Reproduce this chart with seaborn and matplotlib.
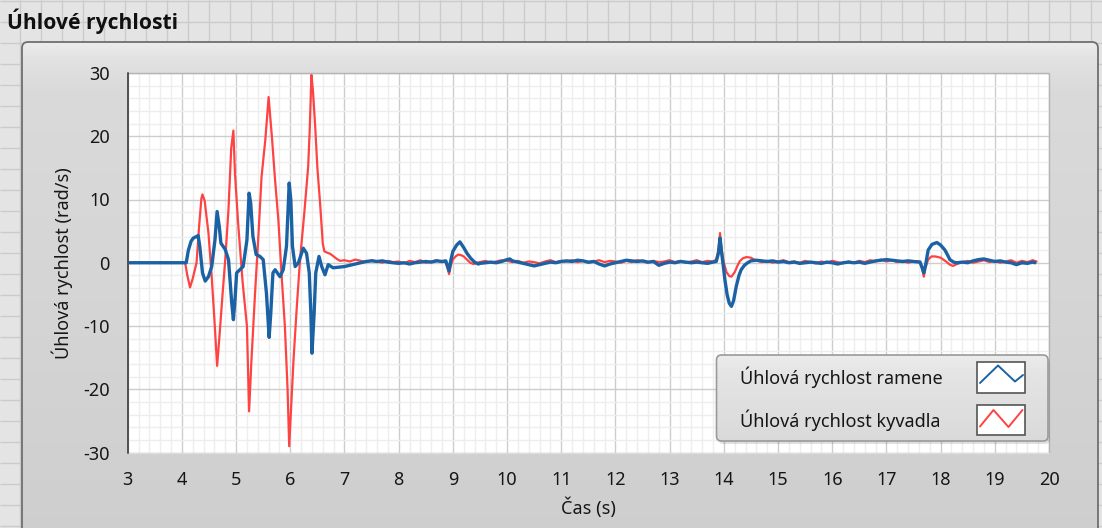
import numpy as np
import matplotlib
matplotlib.use("Agg")
import matplotlib.pyplot as plt
import seaborn as sns
from matplotlib import font_manager
from matplotlib.patches import FancyBboxPatch, Rectangle
from matplotlib.ticker import MultipleLocator

# ---------------------------------------------------------------- data
title = "Úhlové rychlosti"
x_label = "Čas (s)"
y_label = "Úhlová rychlost (rad/s)"
arm_label = "Úhlová rychlost ramene"
pend_label = "Úhlová rychlost kyvadla"

x_ticks = list(range(3, 21))
y_ticks = [-30, -20, -10, 0, 10, 20, 30]

# arm angular velocity (rad/s)
arm_t = [3.00, 4.08, 4.12, 4.17, 4.21, 4.26, 4.30, 4.33, 4.38, 4.43, 4.49, 4.55,
         4.61, 4.65, 4.69, 4.72, 4.80, 4.86, 4.92, 4.95, 4.98, 5.01, 5.07, 5.13,
         5.20, 5.24, 5.27, 5.31, 5.37, 5.44, 5.50, 5.56, 5.61, 5.64, 5.68, 5.72,
         5.81, 5.87, 5.93, 5.98, 6.01, 6.04, 6.09, 6.15, 6.24, 6.30, 6.35, 6.38,
         6.40, 6.44, 6.47, 6.53, 6.58, 6.64, 6.70, 6.79, 6.90,
         7.0, 7.1, 7.2, 7.3, 7.4, 7.5, 7.6, 7.7, 7.8, 7.9, 8.0, 8.1, 8.2, 8.3,
         8.4, 8.5, 8.6, 8.7, 8.8, 8.87, 8.90, 8.93, 8.96, 9.00, 9.07, 9.13, 9.20,
         9.26, 9.33, 9.40, 9.47, 9.5, 9.6, 9.7, 9.8, 9.9, 10.0, 10.05, 10.1, 10.2,
         10.3, 10.4, 10.5, 10.6, 10.7, 10.8, 10.9, 11.0, 11.1, 11.2, 11.3, 11.4,
         11.5, 11.6, 11.7, 11.8, 11.9, 12.0, 12.1, 12.2, 12.3, 12.4, 12.5, 12.6,
         12.7, 12.8, 12.9, 13.0, 13.1, 13.2, 13.3, 13.4, 13.5, 13.6, 13.7, 13.8,
         13.86, 13.90, 13.93, 13.96, 13.99, 14.02, 14.06, 14.10, 14.14, 14.18,
         14.23, 14.28, 14.32, 14.38, 14.44, 14.50, 14.6, 14.7, 14.8, 14.9, 15.0,
         15.1, 15.2, 15.3, 15.4, 15.5, 15.6, 15.7, 15.8, 15.9, 16.0, 16.1, 16.2,
         16.3, 16.4, 16.5, 16.6, 16.7, 16.8, 16.9, 17.0, 17.1, 17.2, 17.3, 17.4,
         17.5, 17.62, 17.66, 17.69, 17.72, 17.77, 17.84, 17.93, 18.00, 18.08,
         18.13, 18.17, 18.24, 18.3, 18.4, 18.5, 18.6, 18.7, 18.8, 18.9, 19.0,
         19.1, 19.2, 19.3, 19.4, 19.5, 19.6, 19.7, 19.74]
arm_w = [0.0, 0.0, 2.0, 3.4, 3.9, 4.1, 4.3, 2.6, -1.6, -2.9, -2.2, -0.6,
         3.6, 8.1, 5.7, 3.1, 2.1, 0.5, -6.4, -9.0, -5.8, -1.6, -1.1, -0.6,
         3.6, 11.0, 9.4, 4.2, 1.3, 1.0, 0.5, -4.8, -11.8, -8.0, -1.6, -1.1,
         -2.2, -1.1, 2.6, 12.6, 9.9, 2.6, -0.6, 0.0, 2.3, 1.5, -1.6, -8.0,
         -14.3, -8.0, -1.6, 1.0, -0.6, -1.9, -0.3, -0.8, -0.7,
         -0.6, -0.4, -0.2, 0.0, 0.2, 0.3, 0.2, 0.3, 0.1, 0.0, -0.1, 0.0, -0.2, 0.0,
         0.1, 0.2, 0.1, 0.3, 0.2, 0.3, -0.5, -1.3, 0.3, 1.8, 2.8, 3.3, 2.4,
         1.5, 0.7, 0.1, -0.2, -0.1, 0.0, 0.1, 0.0, 0.2, 0.5, 0.6, 0.3, 0.1,
         -0.1, -0.3, -0.5, -0.3, -0.1, 0.1, 0.0, 0.2, 0.3, 0.2, 0.4, 0.3,
         0.1, 0.2, -0.2, -0.5, -0.2, 0.0, 0.2, 0.4, 0.3, 0.2, 0.3, 0.1,
         0.2, -0.4, -0.1, 0.1, 0.0, 0.2, 0.1, 0.0, 0.1, 0.0, -0.1, 0.1,
         0.2, 1.5, 3.9, 1.5, -0.5, -2.7, -5.0, -6.4, -6.9, -6.0,
         -3.7, -2.0, -1.1, -0.4, 0.0, 0.3, 0.4, 0.3, 0.2, 0.3, 0.1,
         0.2, 0.0, 0.1, -0.1, 0.0, 0.1, 0.0, -0.1, 0.1, 0.0, -0.2, 0.0,
         0.1, 0.0, 0.1, -0.1, 0.1, 0.3, 0.4, 0.5, 0.4, 0.3, 0.2, 0.3,
         0.2, 0.1, -0.8, -1.6, -0.5, 2.0, 2.9, 3.2, 2.8, 2.0,
         1.2, 0.5, 0.1, 0.0, 0.1, 0.0, 0.3, 0.5, 0.6, 0.4, 0.2,
         0.3, 0.1, 0.0, -0.3, 0.0, -0.1, 0.1, 0.0]

# pendulum angular velocity (rad/s)
pend_t = [3.00, 4.06, 4.10, 4.15, 4.20, 4.27, 4.32, 4.36, 4.38, 4.42, 4.49, 4.55,
          4.60, 4.65, 4.69, 4.75, 4.80, 4.86, 4.91, 4.95, 4.98, 5.04, 5.12, 5.20,
          5.24, 5.28, 5.35, 5.41, 5.47, 5.54, 5.60, 5.66, 5.72, 5.78, 5.84, 5.90,
          5.95, 5.98, 6.02, 6.06, 6.12, 6.18, 6.26, 6.33, 6.36, 6.39, 6.42, 6.46,
          6.50, 6.55, 6.60, 6.63, 6.68, 6.74, 6.80, 6.86, 6.92,
          7.0, 7.1, 7.2, 7.3, 7.4, 7.5, 7.6, 7.7, 7.8, 7.9, 8.0, 8.1, 8.2, 8.3,
          8.4, 8.5, 8.6, 8.7, 8.8, 8.86, 8.90, 8.93, 8.96, 9.00, 9.05, 9.10, 9.15,
          9.20, 9.26, 9.32, 9.38, 9.45, 9.5, 9.6, 9.7, 9.8, 9.9, 10.0, 10.1, 10.2,
          10.3, 10.4, 10.5, 10.6, 10.7, 10.8, 10.9, 11.0, 11.1, 11.2, 11.3, 11.4,
          11.5, 11.6, 11.7, 11.8, 11.9, 12.0, 12.1, 12.2, 12.3, 12.4, 12.5, 12.6,
          12.7, 12.8, 12.9, 13.0, 13.1, 13.2, 13.3, 13.4, 13.5, 13.6, 13.7, 13.8,
          13.86, 13.90, 13.93, 13.96, 14.00, 14.05, 14.10, 14.14, 14.20, 14.25,
          14.29, 14.35, 14.42, 14.50, 14.58, 14.7, 14.8, 14.9, 15.0, 15.1, 15.2,
          15.3, 15.4, 15.5, 15.6, 15.7, 15.8, 15.9, 16.0, 16.1, 16.2, 16.3, 16.4,
          16.5, 16.6, 16.7, 16.8, 16.9, 17.0, 17.1, 17.2, 17.3, 17.4, 17.5, 17.62,
          17.66, 17.69, 17.72, 17.77, 17.83, 17.90, 18.00, 18.10, 18.17, 18.23,
          18.3, 18.4, 18.5, 18.6, 18.7, 18.8, 18.9, 19.0, 19.1, 19.2, 19.3, 19.4,
          19.5, 19.6, 19.7, 19.77]
pend_w = [0.0, 0.0, -2.0, -3.9, -2.5, 0.0, 6.0, 10.2, 10.8, 9.8, 4.7, -2.2,
          -9.0, -16.3, -12.0, -5.0, 0.5, 8.5, 18.1, 20.9, 14.0, 6.0, -3.0, -10.0,
          -23.5, -16.0, -4.8, 4.0, 13.6, 19.5, 26.2, 20.0, 13.0, 6.8, -2.0, -10.0,
          -20.0, -29.0, -22.0, -15.3, -7.0, 0.5, 8.0, 15.2, 21.3, 29.7, 27.0, 21.5,
          15.0, 9.4, 3.0, 1.8, 1.6, 1.4, 1.0, 0.6, 0.3,
          0.4, 0.2, 0.5, 0.3, 0.1, 0.4, 0.2, 0.0, 0.3, 0.1, 0.2, -0.1, 0.3, 0.1,
          0.4, 0.0, 0.2, 0.4, 0.1, 0.2, -0.8, -1.8, -0.5, 0.5, 1.0, 1.3, 1.2,
          1.0, 0.5, 0.0, -0.2, 0.0, 0.1, 0.3, 0.0, 0.2, 0.4, 0.3, 0.1, 0.3,
          0.0, 0.2, 0.1, -0.1, 0.2, 0.4, 0.1, 0.3, 0.2, 0.4, 0.1, 0.3,
          0.0, 0.2, 0.4, 0.1, 0.3, 0.2, 0.0, 0.3, 0.1, 0.4, 0.2, 0.0,
          0.3, 0.1, 0.2, 0.4, 0.1, 0.3, 0.0, 0.2, 0.4, 0.1, 0.3, 0.2,
          0.5, 2.0, 4.7, 2.0, 0.0, -1.5, -2.1, -2.2, -1.5, -0.5,
          0.2, 0.7, 0.9, 0.8, 0.4, 0.1, 0.3, 0.0, 0.2, 0.4, 0.1,
          0.2, 0.0, 0.3, 0.1, -0.1, 0.2, 0.0, 0.3, 0.1, -0.1, 0.2, 0.0,
          0.3, 0.1, 0.4, 0.2, 0.5, 0.2, 0.4, 0.1, 0.3, 0.0, 0.2, 0.2,
          -1.0, -2.2, -0.8, 0.5, 1.0, 1.0, 0.8, 0.2, -0.3, -0.5,
          -0.2, 0.1, 0.3, 0.0, 0.2, 0.4, 0.1, 0.3, 0.0, 0.2, 0.4, 0.0,
          0.3, 0.1, 0.4, 0.2]

# ---------------------------------------------------------------- style
W, H = 1102, 528
ARM_COLOR = "#1b62a5"
PEND_COLOR = "#ff4242"
TEXT_COLOR = "#161616"
FS = 13

sns.set_style("white")
plt.rcParams["font.family"] = ["Noto Sans", "DejaVu Sans"]
plt.rcParams["axes.unicode_minus"] = False


def bold_family():
    """First preferred family that ships a real bold face."""
    prefs = ["Open Sans", "Noto Sans", "Roboto", "Lato", "Liberation Sans", "DejaVu Sans"]
    for fam in prefs:
        for f in font_manager.fontManager.ttflist:
            w = f.weight if isinstance(f.weight, int) else 700 if "bold" in str(f.weight) else 400
            if f.name == fam and w >= 700 and f.style == "normal":
                return fam
    return "DejaVu Sans"


fig = plt.figure(figsize=(W / 100, H / 100), dpi=100)


def gray_gradient(ax, extent, stops, clip):
    """Vertical gray gradient image, clipped to a patch."""
    top, bottom = extent[3], extent[2]
    rows = np.linspace(top, bottom, 300)
    levels = np.interp(rows, [s[0] for s in stops], [s[1] for s in stops]) / 255.0
    img = np.repeat(levels[:, None, None], 3, axis=2)
    im = ax.imshow(img, extent=extent, aspect="auto", interpolation="bilinear", zorder=1)
    im.set_clip_path(clip)
    return im


# backdrop in pixel coordinates: panel grid, frame, title
bg = fig.add_axes([0, 0, 1, 1], zorder=0)
bg.set_xlim(0, W)
bg.set_ylim(H, 0)
bg.axis("off")
bg.add_patch(Rectangle((0, 0), W, H, facecolor="#e4e4e4", edgecolor="none", zorder=0))
bg.vlines(np.arange(20, W, 21), 0, H, colors="#cbcbcb", lw=1.0, zorder=0.5)
bg.hlines(np.arange(1, H, 21), 0, W, colors="#cbcbcb", lw=1.0, zorder=0.5)

frame = FancyBboxPatch((22, 42), 1076, 510, boxstyle="round,pad=0,rounding_size=6",
                       facecolor="none", edgecolor="#6f6f6f", lw=1.3, zorder=2)
bg.add_patch(frame)
gray_gradient(bg, [22, 1098, 552, 42],
              [(42, 236), (58, 226), (90, 218), (300, 213), (552, 206)], frame)
title_text = bg.text(7, 21, title, fontsize=13.5, fontweight="bold",
                     family=[bold_family(), "DejaVu Sans"], color="#101010",
                     ha="left", va="center", zorder=3)

# stretch the title to the width it occupies on the panel (about 171 px)
fig.canvas.draw()
tw = title_text.get_window_extent().width
title_text.set_fontsize(13.5 * min(max(171.0 / tw, 0.8), 1.35))

# chart
x0, x1, y0, y1 = 127.7, 1049.0, 73.0, 452.5
ax = fig.add_axes([x0 / W, 1 - y1 / H, (x1 - x0) / W, (y1 - y0) / H], zorder=1)
ax.set_facecolor("white")

sns.lineplot(x=np.array(pend_t), y=np.array(pend_w), ax=ax, color=PEND_COLOR, lw=1.6,
             estimator=None, sort=False, label=pend_label, legend=False, zorder=3)
sns.lineplot(x=np.array(arm_t), y=np.array(arm_w), ax=ax, color=ARM_COLOR, lw=2.4,
             estimator=None, sort=False, label=arm_label, legend=False, zorder=4)

ax.set_xlim(x_ticks[0], x_ticks[-1])
ax.set_ylim(y_ticks[0], y_ticks[-1])
ax.set_xticks(x_ticks)
ax.set_yticks(y_ticks)
ax.xaxis.set_minor_locator(MultipleLocator(0.2))
ax.yaxis.set_minor_locator(MultipleLocator(2))
ax.set_axisbelow(True)
ax.grid(which="minor", color="#eeeeee", lw=1.0)
ax.grid(which="major", color="#cdcdcd", lw=1.0)

for side in ["top", "right", "left", "bottom"]:
    ax.spines[side].set_visible(False)
ax.spines["left"].set_position(("outward", 4))
ax.spines["bottom"].set_position(("outward", 4))
ax.tick_params(which="major", direction="out", length=6, width=1.5, color="#2a2a2a",
               labelsize=FS, labelcolor=TEXT_COLOR, pad=3)
ax.tick_params(which="minor", length=0)

# chart border: dark on the left, light elsewhere
ax.plot([0, 1, 1], [1, 1, 0], transform=ax.transAxes, color="#b4b4b4", lw=1.0,
        clip_on=False, zorder=5)
ax.plot([0, 1], [0, 0], transform=ax.transAxes, color="#dddddd", lw=1.0,
        clip_on=False, zorder=5)
ax.plot([0, 0], [0, 1], transform=ax.transAxes, color="#505050", lw=1.4,
        clip_on=False, zorder=5)

ax.set_xlabel(x_label, fontsize=FS, color=TEXT_COLOR)
ax.set_ylabel(y_label, fontsize=FS, color=TEXT_COLOR)
ax.xaxis.label.set_va("center")
ax.yaxis.label.set_va("center")
ax.xaxis.set_label_coords(0.5, (y1 - 508) / (y1 - y0))
ax.yaxis.set_label_coords((62 - x0) / (x1 - x0), 0.5)

# legend box with a framed line sample per series
fg = fig.add_axes([0, 0, 1, 1], zorder=2)
fg.set_xlim(0, W)
fg.set_ylim(H, 0)
fg.axis("off")
fg.patch.set_alpha(0)

lx, ly, lw_, lh = 716.5, 355, 331.5, 86
fg.add_patch(FancyBboxPatch((lx + 2, ly + 3), lw_, lh, boxstyle="round,pad=0,rounding_size=5",
                            facecolor="#000000", alpha=0.12, edgecolor="none", zorder=1))
leg_frame = FancyBboxPatch((lx, ly), lw_, lh, boxstyle="round,pad=0,rounding_size=5",
                           facecolor="none", edgecolor="#9a9a9a", lw=1.2, zorder=3)
fg.add_patch(leg_frame)
gray_gradient(fg, [lx, lx + lw_, ly + lh, ly],
              [(ly, 236), (ly + 20, 228), (ly + lh, 218)], leg_frame)

handles, labels = ax.get_legend_handles_labels()
order = [labels.index(arm_label), labels.index(pend_label)]
rows = [(377, 362, [(980, 383), (998, 365.5), (1015, 381.5), (1023, 375)]),
        (420, 404.5, [(980, 426.5), (993.5, 410), (1008.5, 427), (1022.5, 410)])]
for idx, (ty, by, zig) in zip(order, rows):
    h = handles[idx]
    fg.text(740, ty, labels[idx], fontsize=FS, color=TEXT_COLOR, ha="left",
            va="center", zorder=4)
    fg.add_patch(Rectangle((976.5, by), 48.5, 30.5, facecolor="white",
                           edgecolor="#555555", lw=1.2, zorder=4))
    zx, zy = zip(*zig)
    fg.plot(zx, zy, color=h.get_color(), lw=1.4, zorder=5)

fig.savefig("out.png", dpi=100)
